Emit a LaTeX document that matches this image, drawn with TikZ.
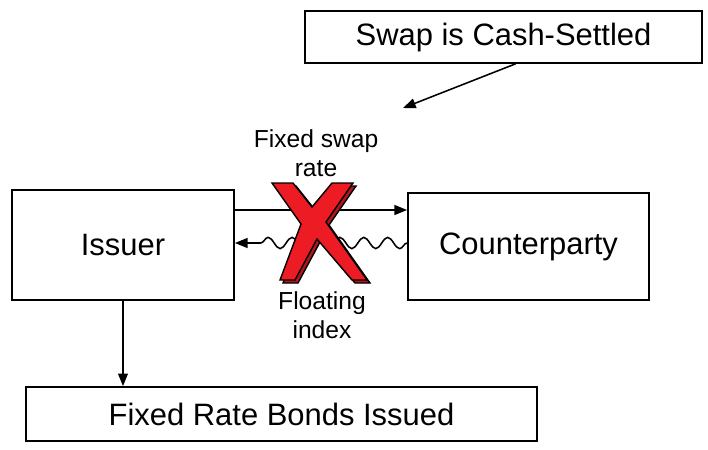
\documentclass[tikz,border=0pt]{standalone}
\usepackage{fontspec}
\setmainfont{Liberation Sans}
\usetikzlibrary{arrows.meta,decorations.pathmorphing}
\definecolor{crossred}{RGB}{237,28,36}

\begin{document}
\begin{tikzpicture}[x=0.025cm,y=-0.025cm,
  box/.style={draw,line width=1.2pt,inner sep=0pt,font=\fontsize{22}{26}\selectfont},
  flow/.style={line width=1.1pt,-{Triangle[length=9pt,width=7pt]}},
  wave/.style={decorate,decoration={snake,amplitude=4pt,segment length=17pt,post length=15pt}},
  lbl/.style={align=center,font=\fontsize{17.5}{21}\selectfont}]
  \useasboundingbox (0,0) rectangle (708,449);
  \node (swap) at (503.5,37) [box,minimum width=9.925cm,minimum height=1.3cm] {Swap is Cash-Settled};
  \node (issuer) at (123,245) [box,minimum width=5.55cm,minimum height=2.75cm] {Issuer};
  \node (cpty) at (528.5,246.5) [box,minimum width=6.025cm,minimum height=2.675cm] {Counterparty};
  \node (bonds) at (281.5,414) [box,minimum width=12.775cm,minimum height=1.35cm] {Fixed Rate Bonds Issued};
  \node (fixlbl) at (316,153) [lbl] {Fixed swap\\rate};
  \node (fltlbl) at (322,315) [lbl] {Floating\\index};
  \coordinate (tip) at (403,108);
  % payments between the two parties
  \draw[flow] (issuer.east |- 0,210) -- (cpty.west |- 0,210);
  \draw[flow,wave] (cpty.west |- 0,243) -- (issuer.east |- 0,243);
  \draw[flow] ([xshift=0.3cm]swap.south) -- (tip);
  \draw[flow] (issuer.south) -- (issuer.south |- bonds.north);
  % the cross over the swap
  \draw[line width=1pt,fill=crossred!75!black,shift={(3,3)}]
    (272,183) -- (293,183) -- (312,207) -- (332,183) -- (353,183) -- (326,222)
    -- (367,280) -- (352,280) -- (317,239) -- (295,280) -- (280,280) -- (301,224) -- cycle;
  \draw[line width=1pt,fill=crossred]
    (272,183) -- (293,183) -- (312,207) -- (332,183) -- (353,183) -- (326,222)
    -- (367,280) -- (352,280) -- (317,239) -- (295,280) -- (280,280) -- (301,224) -- cycle;
\end{tikzpicture}
\end{document}
